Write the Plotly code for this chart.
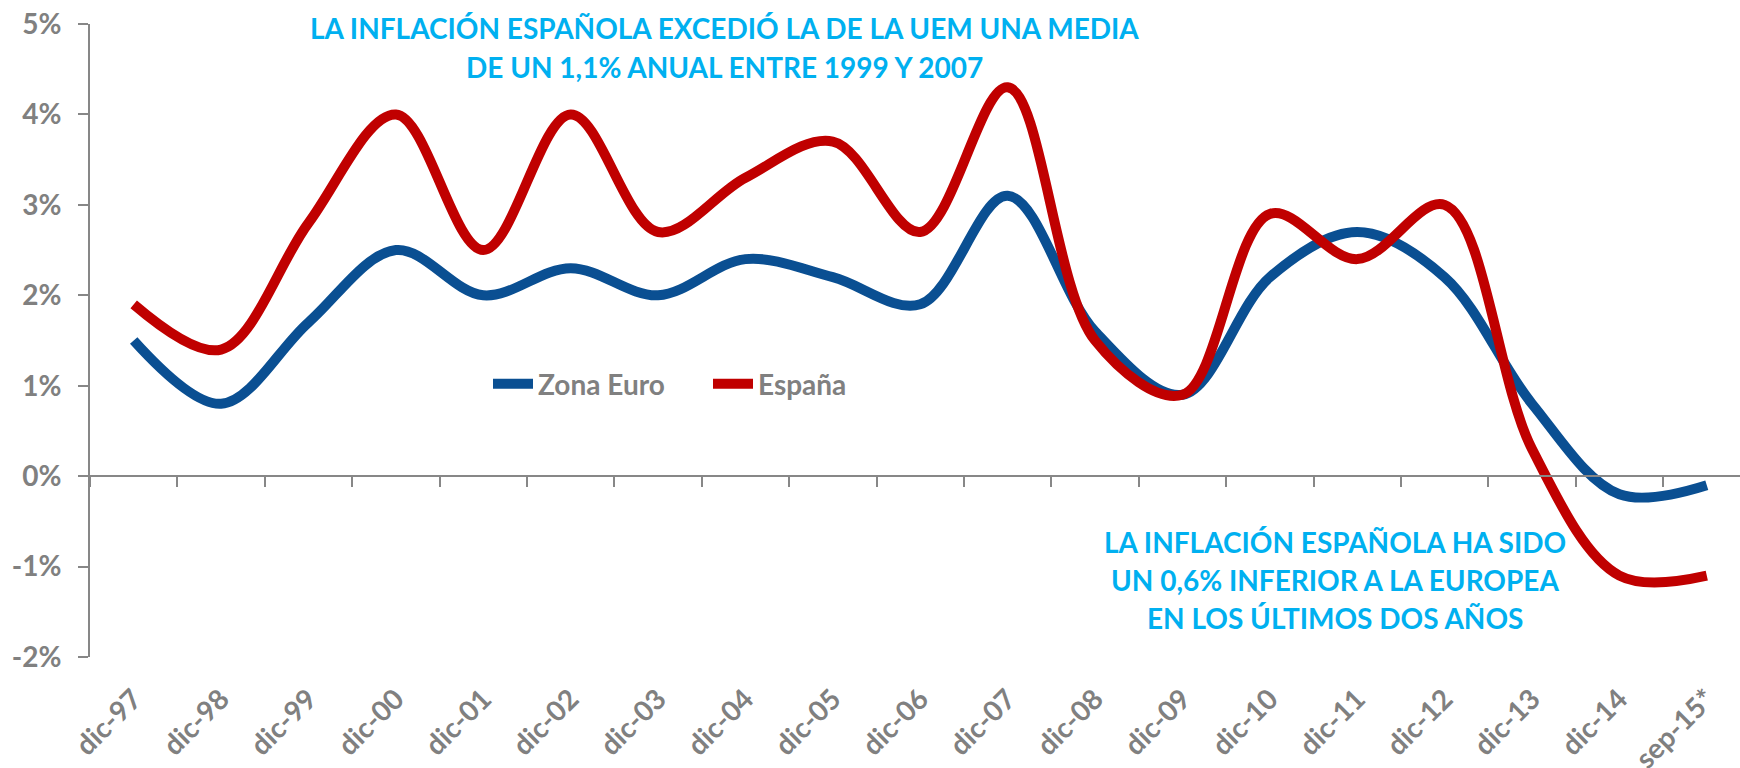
import plotly.graph_objects as go

categories = ["dic-97", "dic-98", "dic-99", "dic-00", "dic-01", "dic-02", "dic-03",
              "dic-04", "dic-05", "dic-06", "dic-07", "dic-08", "dic-09", "dic-10",
              "dic-11", "dic-12", "dic-13", "dic-14", "sep-15*"]
zona_euro = [1.5, 0.8, 1.7, 2.5, 2.0, 2.3, 2.0, 2.4, 2.2, 1.9, 3.1, 1.6, 0.9, 2.2,
             2.7, 2.2, 0.8, -0.2, -0.1]
espana = [1.9, 1.4, 2.8, 4.0, 2.5, 4.0, 2.7, 3.3, 3.7, 2.7, 4.3, 1.5, 0.9, 2.9,
          2.4, 3.0, 0.3, -1.1, -1.1]
y_ticks = [-2, -1, 0, 1, 2, 3, 4, 5]
y_ticktext = ["-2%", "-1%", "0%", "1%", "2%", "3%", "4%", "5%"]

note_top = ["LA INFLACIÓN ESPAÑOLA EXCEDIÓ LA DE LA UEM UNA MEDIA",
            "DE UN 1,1% ANUAL ENTRE 1999 Y 2007"]
note_bottom = ["LA INFLACIÓN ESPAÑOLA HA SIDO",
               "UN 0,6% INFERIOR A LA EUROPEA",
               "EN LOS ÚLTIMOS DOS AÑOS"]

FONT = "Lato"
GRAY = "#808080"
AXIS = "#878787"
CYAN = "#00B0F0"
BLUE = "#0A4F92"
RED = "#C00000"
FS = 28

x_idx = list(range(len(categories)))
boundaries = [i - 0.5 for i in range(len(categories) + 1)]

L, T, B = 90, 24, 111.3
PH = 768 - T - B
PW = 1740 - L

def px_x(px):
    return (px - L) / PW

def px_y(py):
    return (768 - B - py) / PH

fig = go.Figure()
fig.add_trace(go.Scatter(x=x_idx, y=zona_euro, name="Zona Euro", mode="lines",
                         legend="legend",
                         line=dict(color=BLUE, width=10, shape="spline", smoothing=1.0)))
fig.add_trace(go.Scatter(x=x_idx, y=espana, name="España", mode="lines",
                         legend="legend2",
                         line=dict(color=RED, width=10, shape="spline", smoothing=1.0)))
# invisible trace to hold the zero-line axis
fig.add_trace(go.Scatter(x=[x_idx[0]], y=[0], xaxis="x2", mode="lines",
                         showlegend=False, hoverinfo="skip", line=dict(width=0)))

legfont = dict(family=FONT, size=FS, color=GRAY, weight="bold")
xr = [-0.5, 18.38]
fig.update_layout(
    width=1740, height=768,
    margin=dict(l=L, r=0, t=T, b=B, autoexpand=False),
    paper_bgcolor="white", plot_bgcolor="white",
    font=dict(family=FONT, color=GRAY, size=FS),
    showlegend=True,
    legend=dict(x=px_x(488), y=px_y(384), xanchor="left", yanchor="middle",
                font=legfont, bgcolor="rgba(0,0,0,0)", itemwidth=40),
    legend2=dict(x=px_x(708), y=px_y(384), xanchor="left", yanchor="middle",
                 font=legfont, bgcolor="rgba(0,0,0,0)", itemwidth=40),
    xaxis=dict(range=xr, tickmode="array", tickvals=x_idx, ticktext=categories,
               tickangle=-45, showline=False, showgrid=False, zeroline=False,
               ticks="", ticklabelstandoff=19, automargin=False,
               tickfont=dict(family=FONT, size=FS, color=GRAY, weight="bold")),
    xaxis2=dict(range=xr, overlaying="x", anchor="free", position=2/7, side="bottom",
                tickmode="array", tickvals=boundaries, showticklabels=False,
                ticks="outside", ticklen=10, tickwidth=2, tickcolor=AXIS, automargin=False,
                showline=True, linecolor=AXIS, linewidth=2, showgrid=False, zeroline=False),
    yaxis=dict(range=[-2, 5], tickmode="array", tickvals=y_ticks, ticktext=y_ticktext,
               showline=True, linecolor=AXIS, linewidth=2, ticks="outside", ticklen=10,
               tickwidth=2, tickcolor=AXIS, showgrid=False, zeroline=False,
               ticklabelstandoff=11, automargin=False,
               tickfont=dict(family=FONT, size=FS, color=GRAY, weight="bold")),
)

top_y = [28, 66.7]
for txt, yp in zip(note_top, top_y):
    fig.add_annotation(text=txt, xref="paper", yref="paper",
                       x=px_x(724), y=px_y(yp),
                       xanchor="center", yanchor="middle", showarrow=False,
                       font=dict(family=FONT, size=FS, color=CYAN, weight="bold"))
bot_y = [541.7, 580, 617.5]
for txt, yp in zip(note_bottom, bot_y):
    fig.add_annotation(text=txt, xref="paper", yref="paper",
                       x=px_x(1335), y=px_y(yp),
                       xanchor="center", yanchor="middle", showarrow=False,
                       font=dict(family=FONT, size=FS, color=CYAN, weight="bold"))

fig.write_html("out.html", config={"displayModeBar": False},
               post_script="document.body.style.margin='0';document.body.style.overflow='hidden';")
